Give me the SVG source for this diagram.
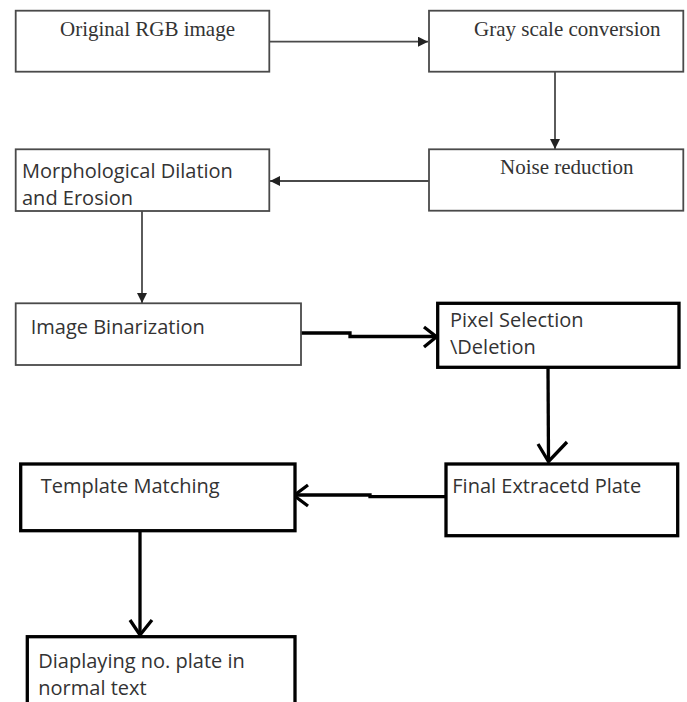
<svg xmlns="http://www.w3.org/2000/svg" width="687" height="702" viewBox="0 0 687 702">
<style>
.thin{fill:#fff;stroke:#4a4a4a;stroke-width:1.8}
.thick{fill:#fff;stroke:#000;stroke-width:3.3}
.serif{font-family:"Liberation Serif","Times New Roman",serif;font-size:21px;fill:#333}
.sans{font-family:"Open Sans","Liberation Sans",sans-serif;font-size:20px;fill:#333}
.tl{fill:none;stroke:#4a4a4a;stroke-width:1.8}
.tk{fill:none;stroke:#000;stroke-width:3.3;stroke-linejoin:miter;stroke-linecap:butt}
</style>
<defs>
<marker id="tri" viewBox="0 0 10 10" refX="10" refY="5" markerWidth="10" markerHeight="10" markerUnits="userSpaceOnUse" orient="auto">
<path d="M0,0 L10,5 L0,10 Z" fill="#222"/>
</marker>
</defs>
<rect width="687" height="702" fill="#fff"/>
<g id="connectors">
<line class="tl" x1="269" y1="41.7" x2="428" y2="41.7" marker-end="url(#tri)"/>
<line class="tl" x1="555" y1="72" x2="555" y2="149" marker-end="url(#tri)"/>
<line class="tl" x1="429" y1="181" x2="270" y2="181" marker-end="url(#tri)"/>
<line class="tl" x1="142" y1="211" x2="142" y2="303" marker-end="url(#tri)"/>
<path class="tk" d="M301,333 L350,333 L350,336.5 L436,336.5"/>
<path class="tk" d="M424,327 L436.5,336.7 L424,347"/>
<line class="tk" x1="548" y1="367" x2="548.5" y2="461"/>
<path class="tk" d="M538,444 L548.5,461.5 L567,442"/>
<path class="tk" d="M446,496.7 L370,496.7 L370,495 L294,495"/>
<path class="tk" d="M308,485 L294,495.5 L308,506"/>
<line class="tk" x1="140" y1="531" x2="140" y2="634"/>
<path class="tk" d="M130,620 L140,635 L152,620"/>
</g>
<g id="n1">
<rect class="thin" x="15.7" y="10.7" width="253.6" height="61"/>
<text class="serif" x="60" y="36">Original RGB image</text>
</g>
<g id="n2">
<rect class="thin" x="429" y="10.7" width="254.3" height="61"/>
<text class="serif" x="474" y="36">Gray scale conversion</text>
</g>
<g id="n3">
<rect class="thin" x="429" y="149.3" width="254.3" height="61.4"/>
<text class="serif" x="500" y="174">Noise reduction</text>
</g>
<g id="n4">
<rect class="thin" x="15.7" y="149.3" width="253.6" height="61.7"/>
<text class="sans" x="22" y="178.3">Morphological Dilation</text>
<text class="sans" x="22" y="205">and Erosion</text>
</g>
<g id="n5">
<rect class="thin" x="15.7" y="303.3" width="285.3" height="61.7"/>
<text class="sans" x="30.7" y="334">Image Binarization</text>
</g>
<g id="n6">
<rect class="thick" x="437.7" y="303.3" width="241.3" height="64"/>
<text class="sans" x="450" y="326.7">Pixel Selection</text>
<text class="sans" x="450" y="354.3">\Deletion</text>
</g>
<g id="n7">
<rect class="thick" x="20.7" y="464" width="274.3" height="66.7"/>
<text class="sans" x="40.7" y="493.3">Template Matching</text>
</g>
<g id="n8">
<rect class="thick" x="446" y="464" width="231.7" height="71.7"/>
<text class="sans" x="452.3" y="493.3">Final Extracetd Plate</text>
</g>
<g id="n9">
<rect class="thick" x="27.3" y="636.7" width="267.7" height="90"/>
<text class="sans" x="38.3" y="668.3">Diaplaying no. plate in</text>
<text class="sans" x="38.3" y="695">normal text</text>
</g>
</svg>
